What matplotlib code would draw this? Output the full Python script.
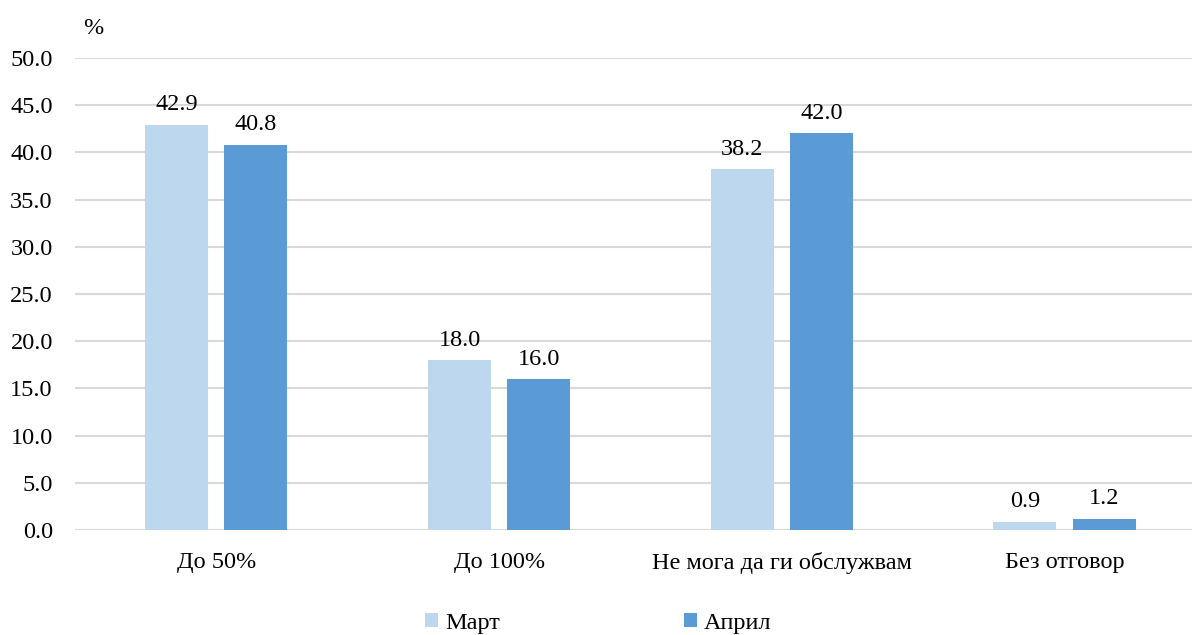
import matplotlib.pyplot as plt
import numpy as np

categories = ['До 50%', 'До 100%', 'Не мога да ги обслужвам', 'Без отговор']
mart = [42.9, 18.0, 38.2, 0.9]
april = [40.8, 16.0, 42.0, 1.2]
series_names = ['Март', 'Април']
colors = ['#BDD7EE', '#5B9BD5']

plt.rcParams['font.family'] = ['Liberation Serif', 'DejaVu Serif']
fs = 17.5

fig = plt.figure(figsize=(11.92, 6.35), dpi=100)
ax = fig.add_axes([75 / 1192, 0.165, 1 - 75 / 1192, 0.744])

x = np.arange(len(categories))
width = 0.223
offset = 0.14
bars1 = ax.bar(x - offset, mart, width, color=colors[0], label=series_names[0], zorder=3)
bars2 = ax.bar(x + offset, april, width, color=colors[1], label=series_names[1], zorder=3)

for bars in (bars1, bars2):
    for b in bars:
        ax.text(b.get_x() + b.get_width() / 2, b.get_height() + 1.0, f'{b.get_height():.1f}',
                ha='center', va='bottom', fontsize=fs)

ax.set_xlim(-0.5, 3.451)
ax.set_ylim(0, 50)
ax.set_yticks(np.arange(0, 50.1, 5))
ax.set_yticklabels([f'{v:.1f}' for v in np.arange(0, 50.1, 5)])
ax.set_xticks(x)
ax.set_xticklabels(categories)
ax.tick_params(axis='both', length=0, labelsize=fs)
ax.tick_params(axis='x', pad=16)
ax.tick_params(axis='y', pad=16)
ax.grid(axis='y', color='#D9D9D9', linewidth=1.5, zorder=0)
for s in ax.spines.values():
    s.set_visible(False)

fig.text(93 / 1192, 1 - 28 / 635, '%', fontsize=fs, ha='center', va='center')

fig.legend(loc='center', bbox_to_anchor=(0.502, 1 - 623 / 635), ncol=2, frameon=False,
           fontsize=fs, handlelength=0.5, handleheight=0.5, handletextpad=0.3,
           columnspacing=7.6)

fig.savefig('out.png', dpi=100)
